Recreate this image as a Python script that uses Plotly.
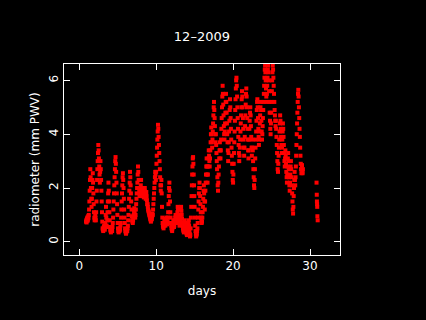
import numpy as np
import plotly.graph_objects as go

# Sampling: regular 0.04-day steps starting at day 0.88
start_day = 0.88
step_day = 0.04

pwv_week1 = [
    0.75, 0.8, 0.72, 0.85, 0.9, 0.78, 0.82, 0.95, 0.88, 1.0, 1.2, 1.5, 1.9, 2.3, 2.7, 2.4, 2.0, 1.6, 1.3, 1.6, 2.0, 2.3, 2.55, 2.2, 1.8,
    1.4, 1.1, 0.9, 0.8, 0.85, 1.0, 0.9, 0.8, 1.1, 1.5, 1.9, 2.3, 2.7, 3.0, 3.3, 3.6, 3.4, 3.1, 2.8, 2.5, 2.2, 2.6, 3.0, 2.7, 2.3,
    1.9, 1.5, 1.1, 0.75, 0.5, 0.45, 0.4, 0.5, 0.55, 0.6, 0.5, 0.45, 0.55, 0.7, 1.0, 1.3, 0.9, 0.6, 0.55, 0.8, 1.1, 1.5, 1.8, 2.2, 1.9,
    1.5, 1.1, 0.8, 0.55, 0.45, 0.4, 0.35, 0.4, 0.5, 0.45, 0.4, 0.55, 0.7, 0.9, 1.2, 1.5, 1.8, 2.1, 2.4, 2.7, 3.0, 3.15, 2.9, 2.6, 2.2,
    1.8, 1.4, 1.0, 0.7, 0.5, 0.4, 0.35, 0.4, 0.45, 0.4, 0.5, 0.45, 0.6, 0.7, 0.9, 1.2, 1.5, 1.8, 2.1, 2.4, 2.55, 2.3, 2.0, 1.6, 1.2,
    0.9, 0.7, 0.5, 0.4, 0.35, 0.3, 0.35, 0.4, 0.45, 0.4, 0.5, 0.6, 0.8, 1.0, 1.3, 1.6, 1.9, 2.2, 2.6, 2.4, 2.1, 1.8, 1.5, 1.2, 0.95,
    0.8, 0.75, 0.7, 0.8, 0.9, 1.0, 1.15, 1.25, 1.1, 0.95, 0.9, 1.0, 1.2, 1.4, 1.6, 1.8, 2.0, 2.2, 2.5, 2.8, 2.6, 2.3, 2.0, 1.85, 1.75,
]
pwv_week2 = [
    1.7, 1.8, 1.9, 2.1, 2.3, 2.0, 1.8, 1.75, 1.7, 1.8, 1.9, 1.85, 1.7, 1.65, 1.8, 1.9, 2.0, 1.85, 1.7, 1.6, 1.75, 1.85, 1.7, 1.55, 1.4,
    1.4, 1.3, 1.2, 1.15, 1.1, 1.05, 1.0, 0.95, 0.9, 0.85, 0.8, 0.75, 0.8, 0.9, 0.85, 0.95, 1.05, 1.0, 1.2, 1.4, 1.6, 1.8, 2.0, 2.2, 2.4,
    2.6, 2.5, 2.3, 2.6, 2.9, 3.2, 3.5, 3.8, 4.1, 4.35, 4.2, 3.9, 3.6, 3.3, 3.0, 2.7, 2.4, 2.1, 1.9, 2.1, 2.3, 1.8, 1.3, 0.9, 0.7,
    0.6, 0.55, 0.5, 0.6, 0.7, 0.8, 0.75, 0.65, 0.6, 0.7, 0.85, 0.9, 0.8, 0.7, 0.65, 0.75, 0.9, 1.1, 1.4, 1.7, 2.0, 2.2, 1.9, 1.5, 1.1,
    0.9, 0.7, 0.6, 0.5, 0.45, 0.4, 0.5, 0.6, 0.7, 0.8, 0.65, 0.55, 0.6, 0.7, 0.8, 0.9, 1.0, 0.9, 0.8, 0.7, 0.75, 0.9, 1.1, 1.3, 1.2,
    1.0, 0.9, 0.8, 0.7, 0.6, 0.65, 0.8, 1.0, 1.2, 1.3, 1.15, 1.0, 0.85, 0.7, 0.6, 0.5, 0.45, 0.4, 0.35, 0.45, 0.6, 0.8, 0.7, 0.55, 0.45,
    0.4, 0.35, 0.3, 0.25, 0.3, 0.4, 0.5, 0.6, 0.7, 0.8, 0.6, 0.4, 0.3, 0.2, 0.25, 0.5, 0.9, 1.3, 1.7, 2.1, 2.5, 2.8, 3.1, 3.15, 2.9,
]
pwv_week3 = [
    2.5, 2.1, 1.7, 1.3, 0.9, 0.6, 0.4, 0.3, 0.2, 0.25, 0.3, 0.4, 0.5, 0.7, 0.9, 1.2, 1.5, 1.8, 2.0, 2.2, 2.0, 1.7, 1.4, 1.1, 0.9,
    0.8, 0.7, 0.75, 0.9, 1.1, 1.3, 1.6, 1.9, 2.1, 1.8, 1.5, 1.2, 1.5, 1.9, 2.2, 2.5, 2.8, 3.1, 2.8, 2.5, 2.2, 2.5, 2.8, 3.1, 3.4,
    3.2, 3.0, 2.8, 3.1, 3.4, 3.7, 4.0, 4.25, 4.0, 3.7, 3.5, 3.8, 4.1, 4.4, 4.7, 5.0, 5.2, 4.9, 4.6, 4.3, 4.0, 3.7, 4.0, 3.6, 3.3,
    3.0, 2.7, 2.4, 2.1, 1.9, 2.2, 2.5, 2.8, 3.1, 3.4, 3.7, 3.4, 3.1, 3.4, 3.8, 4.2, 4.6, 5.0, 5.4, 5.8, 5.5, 5.1, 4.7, 4.3, 4.0,
    3.8, 4.1, 4.4, 4.8, 5.2, 5.5, 5.2, 4.8, 4.4, 4.0, 3.7, 3.4, 3.0, 3.3, 3.7, 4.1, 4.5, 4.9, 5.3, 5.0, 4.6, 4.2, 3.8, 3.5, 3.2,
    2.9, 2.6, 2.3, 2.2, 2.5, 2.9, 3.3, 3.7, 4.1, 4.5, 4.9, 5.3, 5.7, 6.0, 6.1, 5.8, 5.4, 5.0, 4.6, 4.2, 3.9, 3.6, 3.3, 3.0, 3.2,
    3.5, 3.8, 4.1, 4.4, 4.7, 5.0, 5.3, 5.6, 5.4, 5.0, 4.6, 4.2, 3.8, 3.5, 3.2, 3.5, 3.9, 4.3, 4.7, 5.1, 5.5, 5.7, 5.4, 5.0, 4.6,
]
pwv_week4 = [
    4.2, 3.8, 3.4, 3.1, 3.4, 3.8, 4.2, 4.5, 4.8, 5.0, 4.7, 4.3, 3.9, 3.5, 3.2, 3.5, 3.8, 3.4, 3.0, 2.7, 2.4, 2.1, 2.0, 2.3, 2.7,
    3.1, 3.5, 3.8, 4.1, 4.5, 4.9, 5.2, 5.3, 5.0, 4.6, 4.2, 3.9, 3.6, 3.8, 4.1, 4.4, 4.7, 5.0, 5.2, 4.9, 4.5, 4.1, 3.8, 4.0, 4.3,
    4.6, 4.9, 5.2, 5.5, 5.8, 6.1, 6.4, 6.55, 6.3, 6.0, 5.7, 5.4, 5.2, 5.5, 5.8, 6.1, 6.4, 6.55, 6.3, 6.0, 5.6, 5.2, 4.8, 4.5, 4.2,
    4.0, 4.4, 4.8, 5.2, 5.6, 6.0, 6.3, 6.55, 6.4, 6.1, 5.8, 5.5, 5.2, 4.9, 4.7, 4.5, 4.3, 4.5, 4.2, 3.9, 3.6, 3.3, 3.0, 2.7, 2.6,
    2.9, 3.2, 3.5, 3.8, 4.1, 4.4, 4.7, 4.5, 4.2, 3.9, 3.6, 3.3, 3.5, 3.8, 4.1, 4.4, 4.2, 3.9, 3.6, 3.3, 3.0, 2.8, 3.1, 3.4, 3.2,
    2.9, 2.6, 2.4, 2.2, 2.5, 2.8, 3.1, 3.3, 3.0, 2.7, 2.4, 2.1, 1.9, 2.2, 2.5, 2.8, 3.0, 2.7, 2.4, 2.1, 1.8, 1.5, 1.2, 1.05, 1.3,
    1.7, 2.0, 2.3, 2.6, 2.3, 2.1, 2.4, 2.8, 3.2, 3.6, 4.0, 4.4, 4.8, 5.2, 5.5, 5.65, 5.4, 5.0, 4.6, 4.2, 3.9, 3.5, 3.2, 2.9, 2.7,
    2.55, 2.7, 2.85, 2.6, 2.55, 2.7,
]
late_days = [30.85, 30.88, 30.90, 30.92, 30.94, 30.96, 31.00]
late_pwv = [2.2, 1.75, 1.5, 1.4, 1.3, 0.95, 0.8]

x_ticks = [0, 10, 20, 30]
y_ticks = [0, 2, 4, 6]
title_text = "12\u20132009"
x_title = "days"
y_title = "radiometer (mm PWV)"

pwv = pwv_week1 + pwv_week2 + pwv_week3 + pwv_week4
days = [round(start_day + i * step_day, 3) for i in range(len(pwv))]
days = days + late_days
pwv = pwv + late_pwv

fig = go.Figure()
fig.add_trace(go.Scatter(
    x=days, y=pwv, mode="markers",
    marker=dict(symbol="square", size=4, color="#ff0000", line=dict(width=0)),
    showlegend=False, hoverinfo="skip",
))

font_family = "DejaVu Sans, Liberation Sans, sans-serif"
axis_common = dict(
    showgrid=False, zeroline=False,
    showline=True, linecolor="white", linewidth=1, mirror="allticks",
    ticks="inside", ticklen=6, tickwidth=1, tickcolor="white",
    tickfont=dict(color="white", size=12, family=font_family),
)

fig.update_layout(
    width=426, height=320,
    paper_bgcolor="black", plot_bgcolor="black",
    margin=dict(l=64, r=86, t=64, b=65),
    font=dict(color="white", family=font_family, size=12),
    title=dict(text=title_text, x=0.474, xanchor="center", y=0.885, yanchor="middle",
               font=dict(size=13, color="white")),
    xaxis=dict(range=[-1.98, 33.9], tickvals=x_ticks,
               title=dict(text=x_title, standoff=14, font=dict(size=12, color="white")),
               **axis_common),
    yaxis=dict(range=[-0.49, 6.61], tickvals=y_ticks, tickangle=-90,
               title=dict(text=y_title, standoff=5, font=dict(size=12, color="white")),
               **axis_common),
)

fig.write_html(
    "out.html",
    config={"displayModeBar": False},
    post_script="document.body.style.margin='0';document.body.style.background='black';",
)
